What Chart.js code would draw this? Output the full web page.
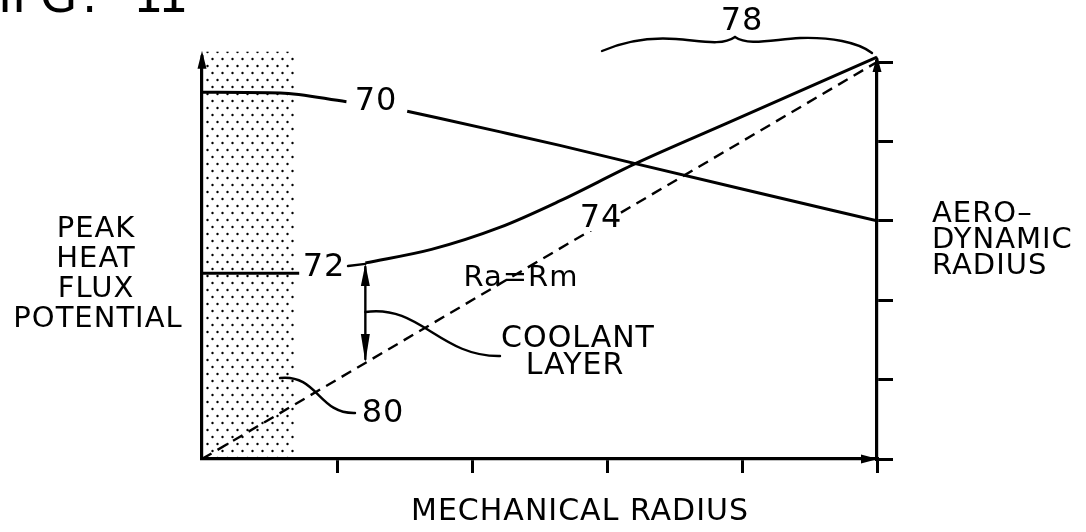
<!DOCTYPE html>
<html><head><meta charset="utf-8">
<script src="https://cdn.jsdelivr.net/npm/chart.js@4"></script>
<style>html,body{margin:0;padding:0;background:#fff;}canvas{display:block;}</style>
</head><body>
<canvas id="c" width="1086" height="532"></canvas>
<script>
// ---- data (axis units: 0..5 on both axes) ----
const xTickValues = [0, 1, 2, 3, 4, 5];
const yTickValues = [0, 1, 2, 3, 4, 5];
const curve70aX = [0, 0.58, 1.07];
const curve70aY = [4.62, 4.61, 4.50];
const curve70bX = [1.52, 2.21, 2.65, 3.21, 4.0, 5.0];
const curve70bY = [4.38, 4.12, 3.95, 3.72, 3.40, 3.00];
const curve72X = [0, 0.72];
const curve72Y = [2.34, 2.34];
const curve74X = [1.21, 1.70, 2.21, 2.65, 3.21, 3.89, 5.0];
const curve74Y = [2.47, 2.64, 2.92, 3.25, 3.72, 4.23, 5.06];
const equalX = [0, 5];
const equalY = [0, 5];
const stippleX = [0, 0.69];
const stippleY = [0, 5.13];

const pts = (xs, ys) => xs.map((v, i) => ({x: v, y: ys[i]}));

function makeStipple() {
  const p = document.createElement('canvas');
  p.width = 10; p.height = 14;
  const g = p.getContext('2d');
  g.fillStyle = '#000';
  g.beginPath(); g.arc(2.5, 3, 1.2, 0, Math.PI * 2); g.fill();
  g.beginPath(); g.arc(7.5, 10, 1.2, 0, Math.PI * 2); g.fill();
  return document.getElementById('c').getContext('2d').createPattern(p, 'repeat');
}
const stipple = makeStipple();

function arrowHead(ctx, tx, ty, dx, dy, len, half) {
  const bx = tx - dx * len, by = ty - dy * len;
  const px = -dy, py = dx;
  ctx.beginPath();
  ctx.moveTo(tx, ty);
  ctx.lineTo(bx + px * half, by + py * half);
  ctx.lineTo(bx - px * half, by - py * half);
  ctx.closePath();
  ctx.fill();
}

const FONT = '"DejaVu Sans", sans-serif';
function text(ctx, s, x, y, size, align) {
  ctx.font = size + 'px ' + FONT;
  ctx.textAlign = align || 'center';
  ctx.textBaseline = 'middle';
  ctx.fillText(s, x, y);
}

const decor = {
  id: 'decor',
  beforeDatasetsDraw(chart) {
    const {ctx, scales: {x, y}} = chart;
    const x0 = x.getPixelForValue(stippleX[0]), x1 = x.getPixelForValue(stippleX[1]);
    const yb = y.getPixelForValue(stippleY[0]), yt = y.getPixelForValue(stippleY[1]);
    ctx.save();
    ctx.fillStyle = stipple;
    ctx.fillRect(x0 + 2, yt, x1 - x0 - 2, yb - yt - 2);
    ctx.restore();
  },
  afterDraw(chart) {
    const {ctx, scales: {x, y}, chartArea: a} = chart;
    ctx.save();
    ctx.fillStyle = '#000'; ctx.strokeStyle = '#000';
    ctx.lineCap = 'round';
    // left axis extension + arrow
    const top = y.getPixelForValue(stippleY[1]);
    ctx.lineWidth = 3;
    ctx.beginPath(); ctx.moveTo(a.left, a.top); ctx.lineTo(a.left, top + 4); ctx.stroke();
    arrowHead(ctx, a.left, top - 1, 0, -1, 18, 4.5);
    // right axis arrow
    ctx.beginPath(); ctx.moveTo(a.right, a.top); ctx.lineTo(a.right, a.top - 3); ctx.stroke();
    arrowHead(ctx, a.right, a.top - 6, 0, -1, 16, 4.5);
    // x axis arrow
    arrowHead(ctx, a.right + 1, a.bottom, 1, 0, 17, 4.5);

    // coolant layer double arrow
    const cx = x.getPixelForValue(curve74X[0]);
    const cyTop = y.getPixelForValue(curve74Y[0]);
    const cyBot = y.getPixelForValue(curve74X[0] * (equalY[1] - equalY[0]) / (equalX[1] - equalX[0]));
    ctx.lineWidth = 2.4;
    ctx.beginPath(); ctx.moveTo(cx, cyTop + 4); ctx.lineTo(cx, cyBot - 4); ctx.stroke();
    arrowHead(ctx, cx, cyTop + 1, 0, -1, 22, 4.5);
    arrowHead(ctx, cx, cyBot - 1, 0, 1, 28, 4.5);

    // 72 leader dash
    ctx.beginPath(); ctx.moveTo(348, 266); ctx.lineTo(cx, cyTop + 1); ctx.stroke();

    // coolant leader
    ctx.beginPath(); ctx.moveTo(cx, 312);
    ctx.bezierCurveTo(420, 304, 440, 357, 500, 356); ctx.stroke();
    // 80 leader
    ctx.beginPath(); ctx.moveTo(280, 378);
    ctx.bezierCurveTo(318, 374, 318, 414, 355, 413); ctx.stroke();
    // 78 brace
    ctx.beginPath(); ctx.moveTo(602, 51);
    ctx.bezierCurveTo(625, 41, 650, 37, 676, 39);
    ctx.bezierCurveTo(702, 41, 722, 46, 735, 37);
    ctx.bezierCurveTo(748, 46, 770, 40, 800, 38);
    ctx.bezierCurveTo(830, 37, 858, 42, 872, 53);
    ctx.stroke();

    // 74 label with white backing over the dashed line
    ctx.fillStyle = '#fff';
    ctx.fillRect(584, 205, 34, 26);
    ctx.fillStyle = '#000';

    ctx.letterSpacing = '1px';
    text(ctx, '70', 376, 102, 32);
    text(ctx, '72', 324, 268, 32);
    text(ctx, '74', 601, 219, 32);
    text(ctx, '78', 742, 22, 32);
    text(ctx, '80', 383, 414, 32);
    text(ctx, 'Ra=Rm', 521, 278, 29);
    text(ctx, 'COOLANT', 578, 339, 30);
    text(ctx, 'LAYER', 575, 366, 30);
    text(ctx, 'MECHANICAL RADIUS', 580, 512, 30);
    text(ctx, 'AERO\u2013', 932, 214, 29, 'left');
    text(ctx, 'DYNAMIC', 932, 240, 29, 'left');
    text(ctx, 'RADIUS', 932, 266, 29, 'left');
    text(ctx, 'PEAK', 96, 229, 29);
    text(ctx, 'HEAT', 96, 259, 29);
    text(ctx, 'FLUX', 96, 289, 29);
    text(ctx, 'POTENTIAL', 98, 319, 29);
    // clipped figure caption at top
    ctx.letterSpacing = '0px';
    ctx.font = '48px ' + FONT; ctx.textAlign = 'left'; ctx.textBaseline = 'alphabetic';
    const fig = ['F', 'I', 'G', '.', '1', '1'];
    const figX = [-2, 12, 40, 82, 133, 158];
    fig.forEach((c, i) => ctx.fillText(c, figX[i], 12));
    ctx.restore();
  }
};

const lineStyle = {showLine: true, borderColor: '#000', borderWidth: 3, pointRadius: 0,
  cubicInterpolationMode: 'monotone', fill: false};

new Chart(document.getElementById('c'), {
  type: 'scatter',
  data: {
    datasets: [
      Object.assign({label: '70a', data: pts(curve70aX, curve70aY)}, lineStyle),
      Object.assign({label: '70b', data: pts(curve70bX, curve70bY)}, lineStyle),
      Object.assign({label: '72', data: pts(curve72X, curve72Y)}, lineStyle),
      Object.assign({label: '74', data: pts(curve74X, curve74Y), clip: false}, lineStyle),
      Object.assign({}, lineStyle, {label: 'Ra=Rm', data: pts(equalX, equalY), borderWidth: 2.4,
        borderDash: [11, 7], cubicInterpolationMode: 'default', tension: 0})
    ]
  },
  options: {
    responsive: false,
    animation: false,
    devicePixelRatio: 1,
    layout: {padding: {top: 62, left: 0, right: 0, bottom: 0}},
    plugins: {legend: {display: false}, tooltip: {enabled: false}},
    scales: {
      x: {
        type: 'linear', min: 0, max: 5, position: 'bottom',
        afterBuildTicks: s => { s.ticks = xTickValues.map(v => ({value: v})); },
        ticks: {display: false},
        grid: {drawOnChartArea: false, tickLength: 14, lineWidth: 3,
          color: c => (c.tick && c.tick.value === 0) ? 'rgba(0,0,0,0)' : '#000'},
        border: {color: '#000', width: 3.2},
        afterFit: s => { s.height = 73; }
      },
      y: {
        type: 'linear', min: 0, max: 5, position: 'left',
        ticks: {display: false},
        grid: {display: false},
        border: {color: '#000', width: 3.2},
        afterFit: s => { s.width = 202; }
      },
      y2: {
        type: 'linear', min: 0, max: 5, position: 'right',
        afterBuildTicks: s => { s.ticks = yTickValues.map(v => ({value: v})); },
        ticks: {display: false},
        grid: {drawOnChartArea: false, tickLength: 16, lineWidth: 3, color: '#000'},
        border: {color: '#000', width: 3.2},
        afterFit: s => { s.width = 209; }
      }
    }
  },
  plugins: [decor]
});
</script>
</body></html>
